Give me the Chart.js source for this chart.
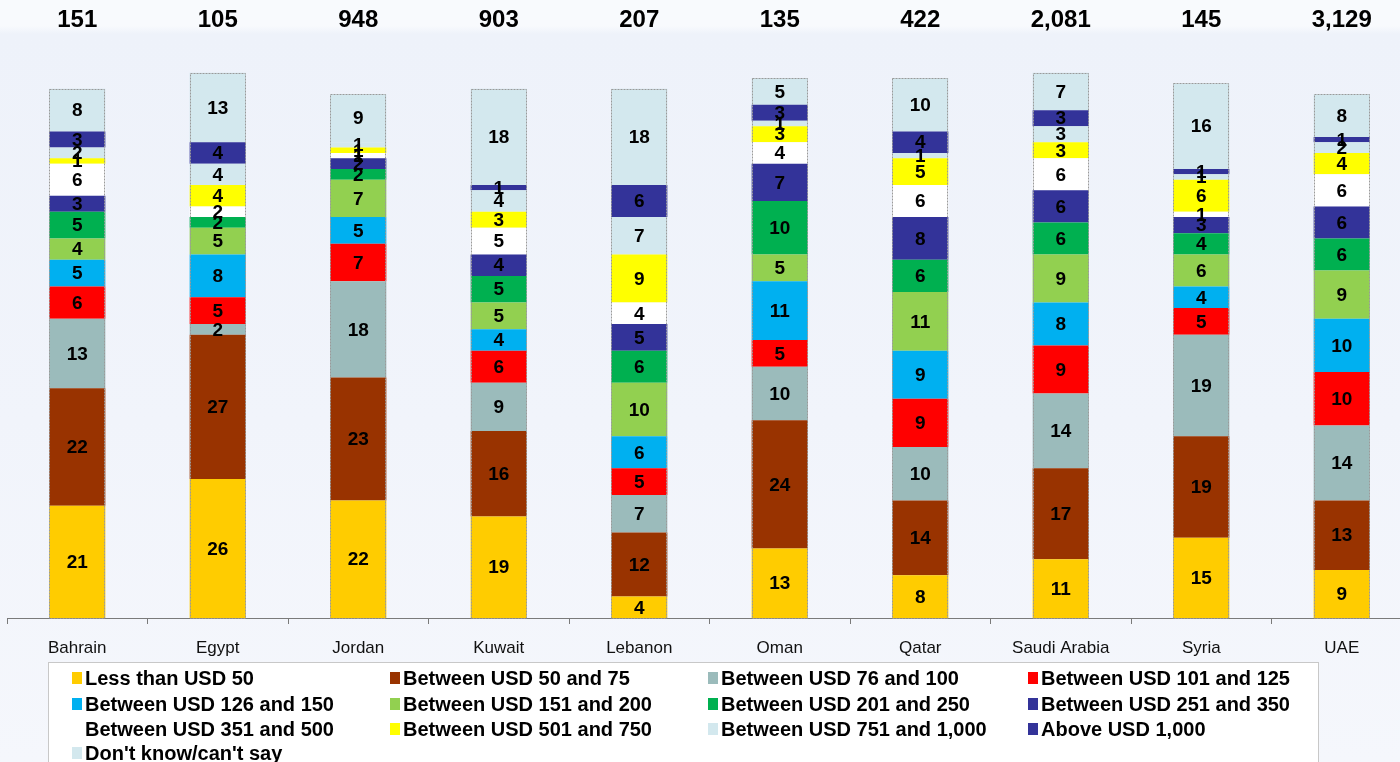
<!DOCTYPE html>
<html>
<head>
<meta charset="utf-8">
<script src="https://cdn.jsdelivr.net/npm/chart.js@4.4.1/dist/chart.umd.min.js"></script>
<style>
  html, body { margin: 0; padding: 0; width: 1400px; height: 762px; overflow: hidden; }
  body { background: linear-gradient(to bottom, #f8fafd 0px, #f8fafd 26px, #eef2fa 34px, #f1f4fb 420px, #f5f7fc 762px); }
  canvas { position: absolute; left: 0; top: 0; }
</style>
</head>
<body>
<canvas id="c" width="1420" height="762"></canvas>
<script>
const categories = ['Bahrain', 'Egypt', 'Jordan', 'Kuwait', 'Lebanon', 'Oman', 'Qatar', 'Saudi Arabia', 'Syria', 'UAE'];
const totals = ['151', '105', '948', '903', '207', '135', '422', '2,081', '145', '3,129'];

const seriesNames = [
  'Less than USD 50', 'Between USD 50 and 75', 'Between USD 76 and 100', 'Between USD 101 and 125',
  'Between USD 126 and 150', 'Between USD 151 and 200', 'Between USD 201 and 250', 'Between USD 251 and 350',
  'Between USD 351 and 500', 'Between USD 501 and 750', 'Between USD 751 and 1,000', 'Above USD 1,000',
  "Don't know/can't say"
];

const lessThan50   = [21, 26, 22, 19, 4, 13, 8, 11, 15, 9];
const usd50to75    = [22, 27, 23, 16, 12, 24, 14, 17, 19, 13];
const usd76to100   = [13, 2, 18, 9, 7, 10, 10, 14, 19, 14];
const usd101to125  = [6, 5, 7, 6, 5, 5, 9, 9, 5, 10];
const usd126to150  = [5, 8, 5, 4, 6, 11, 9, 8, 4, 10];
const usd151to200  = [4, 5, 7, 5, 10, 5, 11, 9, 6, 9];
const usd201to250  = [5, 2, 2, 5, 6, 10, 6, 6, 4, 6];
const usd251to350  = [3, 0, 2, 4, 5, 7, 8, 6, 3, 6];
const usd351to500  = [6, 2, 1, 5, 4, 4, 6, 6, 1, 6];
const usd501to750  = [1, 4, 1, 3, 9, 3, 5, 3, 6, 4];
const usd751to1000 = [2, 4, 1, 4, 7, 1, 1, 3, 1, 2];
const above1000    = [3, 4, 0, 1, 6, 3, 4, 3, 1, 1];
const dontKnow     = [8, 13, 9, 18, 18, 5, 10, 7, 16, 8];

const seriesValues = [lessThan50, usd50to75, usd76to100, usd101to125, usd126to150, usd151to200,
  usd201to250, usd251to350, usd351to500, usd501to750, usd751to1000, above1000, dontKnow];

const colors = ['#FFCC00', '#993300', '#9BBBBB', '#FF0000', '#00B0F0', '#92D050',
  '#00B050', '#333399', '#FFFFFF', '#FFFF00', '#D3E8EE', '#333399', '#D3E8EE'];

const datasets = seriesNames.map((name, i) => ({
  label: name,
  data: seriesValues[i],
  backgroundColor: colors[i],
  borderWidth: 0,
  barPercentage: 0.8,
  categoryPercentage: 0.5
}));

const FONT = '"Liberation Sans", Arial, sans-serif';

const outlinePlugin = {
  id: 'outline',
  afterDatasetsDraw(chart) {
    const ctx = chart.ctx;
    const first = chart.getDatasetMeta(0).data;
    const last = chart.getDatasetMeta(chart.data.datasets.length - 1).data;
    ctx.save();
    ctx.strokeStyle = '#9a9a9a';
    ctx.lineWidth = 1;
    ctx.setLineDash([2, 1]);
    first.forEach((el, i) => {
      const w = el.width;
      const x0 = Math.round(el.x - w / 2) + 0.5;
      const top = Math.round(last[i].y) + 0.5;
      const bottom = Math.round(el.base) + 0.5;
      ctx.strokeRect(x0, top, Math.round(w) - 1, bottom - top);
    });
    ctx.restore();
  }
};

const labelPlugin = {
  id: 'segLabels',
  afterDatasetsDraw(chart) {
    const ctx = chart.ctx;
    ctx.save();
    ctx.font = 'bold 19px ' + FONT;
    ctx.fillStyle = '#000';
    ctx.textAlign = 'center';
    ctx.textBaseline = 'middle';
    chart.data.datasets.forEach((ds, di) => {
      const meta = chart.getDatasetMeta(di);
      meta.data.forEach((el, i) => {
        const v = ds.data[i];
        if (!v) return;
        ctx.fillText(String(v), el.x, (el.y + el.base) / 2 + 1);
      });
    });
    // totals on top
    ctx.font = 'bold 24px ' + FONT;
    const xs = chart.scales.x;
    totals.forEach((t, i) => {
      ctx.fillText(t, xs.getPixelForValue(i), 20);
    });
    ctx.restore();
  }
};

const legendPlugin = {
  id: 'gridLegend',
  afterDraw(chart) {
    const ctx = chart.ctx;
    ctx.save();
    ctx.fillStyle = '#ffffff';
    ctx.fillRect(48, 662, 1270, 110);
    ctx.strokeStyle = '#c8c8c8';
    ctx.lineWidth = 1;
    ctx.strokeRect(48.5, 662.5, 1270, 110);
    const colX = [72, 390, 708, 1028];
    const rowY = [678, 704, 729, 753];
    ctx.font = 'bold 20px ' + FONT;
    ctx.textBaseline = 'middle';
    ctx.textAlign = 'left';
    chart.data.datasets.forEach((ds, i) => {
      const x = colX[i % 4];
      const y = rowY[Math.floor(i / 4)];
      ctx.fillStyle = ds.backgroundColor;
      ctx.fillRect(x, y - 6, 10, 12);
      ctx.fillStyle = '#000';
      ctx.fillText(ds.label, x + 13, y + 1);
    });
    ctx.restore();
  }
};

new Chart(document.getElementById('c'), {
  type: 'bar',
  data: { labels: categories, datasets },
  options: {
    responsive: false,
    animation: false,
    layout: { padding: { top: 30, left: 7, right: 8, bottom: 0 } },
    plugins: { legend: { display: false }, tooltip: { enabled: false } },
    scales: {
      x: {
        stacked: true,
        grid: { display: true, drawOnChartArea: false, drawTicks: true, tickLength: 6, color: '#7a7a7a', offset: true },
        border: { display: true, color: '#7a7a7a', width: 1 },
        ticks: { color: '#111', font: { family: FONT, size: 17 }, padding: 14, maxRotation: 0, autoSkip: false },
        afterFit(scale) { scale.height = 144; }
      },
      y: { stacked: true, display: false, min: 0, max: 110 }
    }
  },
  plugins: [outlinePlugin, labelPlugin, legendPlugin]
});
</script>
</body>
</html>
